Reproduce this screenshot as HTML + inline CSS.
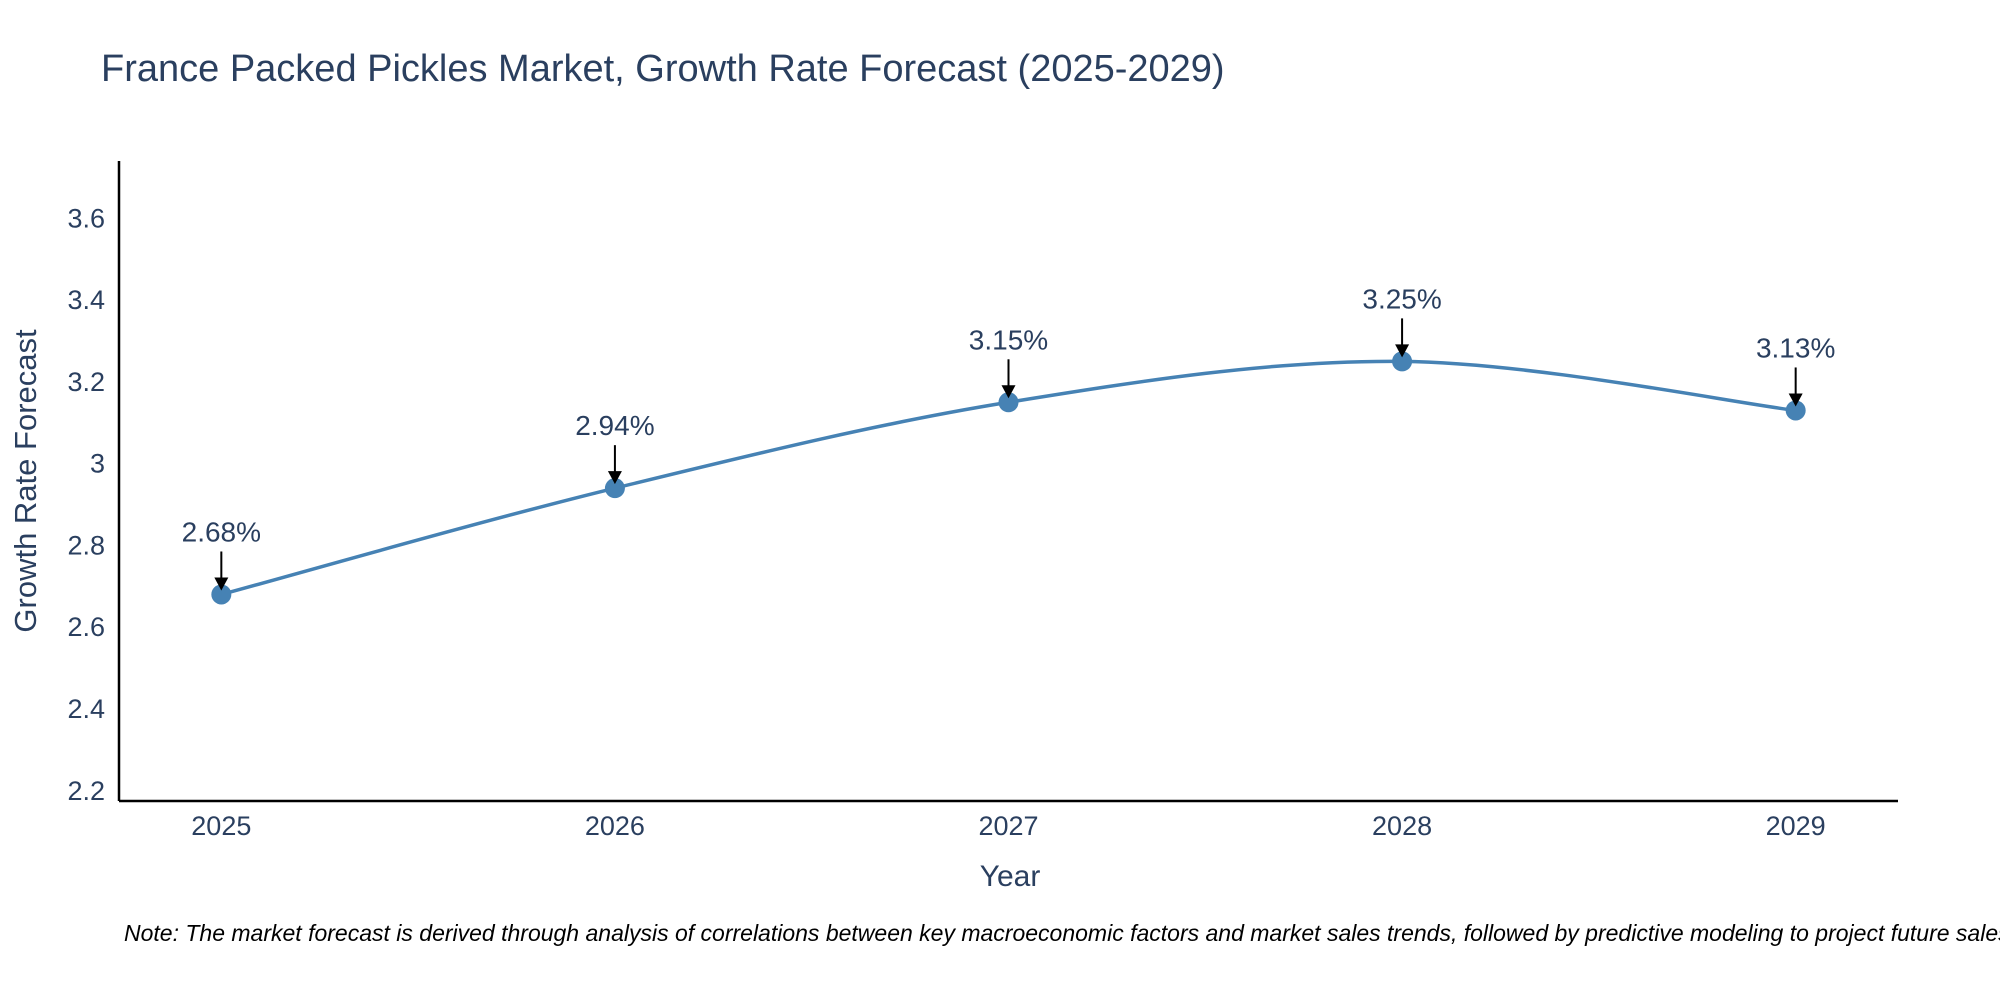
<!DOCTYPE html>
<html><head><meta charset="utf-8"><style>
body{margin:0;background:#fff;}
svg{display:block;font-family:"Liberation Sans",sans-serif;}
</style></head><body>
<svg id="chart" width="2000" height="1000">
<text x="101" y="81" font-size="38" fill="#2a3f5f">France Packed Pickles Market, Growth Rate Forecast (2025-2029)</text>
<g id="yticks"></g><g id="xticks"></g>
<line x1="119" y1="161" x2="119" y2="801" stroke="#000" stroke-width="2.5"/>
<line x1="119" y1="801" x2="1898" y2="801" stroke="#000" stroke-width="2.5"/>
<text x="1010" y="886" font-size="30" fill="#2a3f5f" text-anchor="middle">Year</text>
<text transform="translate(36,481) rotate(-90)" font-size="31" fill="#2a3f5f" text-anchor="middle">Growth Rate Forecast</text>
<g id="series"></g><g id="annos"></g>
<text x="124" y="941" font-size="23" font-style="italic" fill="#000">Note: The market forecast is derived through analysis of correlations between key macroeconomic factors and market sales trends, followed by predictive modeling to project future sales.</text>
</svg>
<script>
const years=[2025,2026,2027,2028,2029];
const growth=[2.68,2.94,3.15,3.25,3.13];
const labels=["2.68%","2.94%","3.15%","3.25%","3.13%"];
const yTicks=[2.2,2.4,2.6,2.8,3,3.2,3.4,3.6];
const yTickLabels=["2.2","2.4","2.6","2.8","3","3.2","3.4","3.6"];
const NS="http://www.w3.org/2000/svg";
const X0=119,X1=1898,Y0=801,Y1=161,xmin=2024.74,xmax=2029.26,ymin=2.175,ymax=3.74;
const sx=v=>X0+(v-xmin)/(xmax-xmin)*(X1-X0);
const sy=v=>Y0-(v-ymin)/(ymax-ymin)*(Y0-Y1);
function mk(t,a,p){const e=document.createElementNS(NS,t);for(const k in a)e.setAttribute(k,a[k]);p.appendChild(e);return e;}
const yt=document.getElementById('yticks');
yTicks.forEach((v,i)=>{const t=mk('text',{x:105,y:sy(v)+9,'font-size':27,fill:'#2a3f5f','text-anchor':'end'},yt);t.textContent=yTickLabels[i];

});
const xt=document.getElementById('xticks');
years.forEach(v=>{const t=mk('text',{x:sx(v),y:835,'font-size':27,fill:'#2a3f5f','text-anchor':'middle'},xt);t.textContent=v;

});
const pts=years.map((y,i)=>[sx(y),sy(growth[i])]);
let d=`M${pts[0][0]},${pts[0][1]}`;const s=0.5/3*2;
for(let i=0;i<pts.length-1;i++){const p0=pts[Math.max(i-1,0)],p1=pts[i],p2=pts[i+1],p3=pts[Math.min(i+2,pts.length-1)];
const c1=[p1[0]+(p2[0]-p0[0])*s/2,p1[1]+(p2[1]-p0[1])*s/2],c2=[p2[0]-(p3[0]-p1[0])*s/2,p2[1]-(p3[1]-p1[1])*s/2];
d+=` C${c1[0]},${c1[1]} ${c2[0]},${c2[1]} ${p2[0]},${p2[1]}`;}
const sg=document.getElementById('series');
const ln=mk('path',{d:d,fill:'none',stroke:'#4682B4','stroke-width':3.5},sg);


const an=document.getElementById('annos');
pts.forEach((p,i)=>{const c=mk('circle',{cx:p[0],cy:p[1],r:10,fill:'#4682B4'},sg);


const l=mk('line',{x1:p[0],y1:p[1]-43,x2:p[0],y2:p[1]-14,stroke:'#000','stroke-width':2},an);


const h=mk('path',{d:`M${p[0]-7},${p[1]-17} L${p[0]+7},${p[1]-17} L${p[0]},${p[1]-4} Z`,fill:'#000'},an);


const t=mk('text',{x:p[0],y:p[1]-53,'font-size':28,fill:'#2a3f5f','text-anchor':'middle'},an);t.textContent=labels[i];

});
</script>
</body></html>
